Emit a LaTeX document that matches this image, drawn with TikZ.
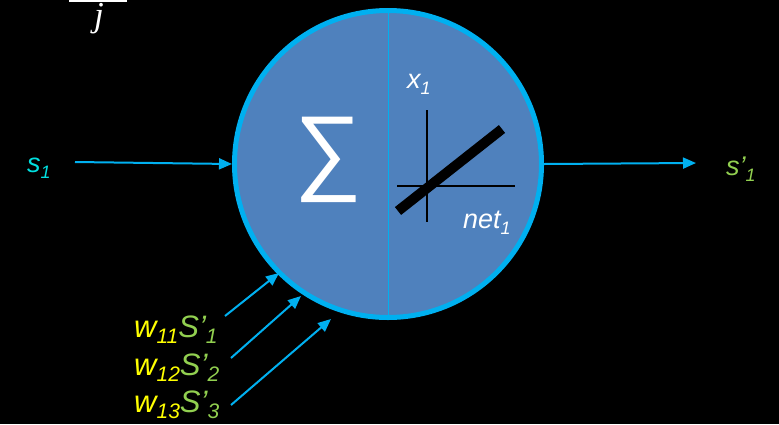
\documentclass[tikz,border=0pt]{standalone}
\usepackage{fontspec}
\setmainfont{Liberation Sans}
\newfontfamily\serifj{Liberation Serif}
\usetikzlibrary{arrows.meta}
\definecolor{neurofill}{HTML}{4F81BD}
\definecolor{neuroline}{HTML}{00B0F0}
\definecolor{incyan}{HTML}{00E0E0}
\definecolor{outgreen}{HTML}{92D050}
\definecolor{wyellow}{HTML}{FFFF00}
\newcommand\mysub[1]{\raisebox{-0.45ex}{\fontsize{18}{18}\selectfont #1}}
\newcommand\wsub[1]{\raisebox{-0.4ex}{\fontsize{21}{21}\selectfont #1}}
\tikzset{
  arr/.style={draw=neuroline, line width=2pt, -{Triangle[length=13pt,width=11pt]}},
  lbl/.style={inner sep=0pt, font=\fontsize{27}{30}\selectfont\itshape},
  wlbl/.style={inner sep=0pt, anchor=base west, font=\fontsize{31}{33}\selectfont\itshape},
}
\begin{document}
\begin{tikzpicture}[x=1pt,y=-1pt]
\fill[black] (0,0) rectangle (779,424);
\useasboundingbox (0,0) rectangle (779,424);
% fraction remnant
\coordinate (fa) at (69,0.8);
\coordinate (fb) at (127,0.8);
\draw[white, line width=1.6pt] (fa) -- (fb);
\node[inner sep=0pt, text=white, font=\fontsize{35}{35}\selectfont\serifj\itshape] (j) at (99,19) {j};
% neuron
\node[circle, draw=neuroline, fill=neurofill, line width=5pt, minimum size=307pt, inner sep=0pt] (neuron) at (388,164) {};
\draw[neuroline, line width=0.8pt] (neuron.north) -- (neuron.south);
\node[inner sep=0pt, text=white, font=\fontsize{95}{95}\selectfont] (sigma) at (328,160) {∑};
% activation plot
\coordinate (va) at (427,110);
\coordinate (vb) at (427,222);
\coordinate (ha) at (397,186);
\coordinate (hb) at (515,186);
\draw[black, line width=1.3pt] (va) -- (vb);
\draw[black, line width=1.3pt] (ha) -- (hb);
\coordinate (ta) at (398,211);
\coordinate (tb) at (502,129);
\draw[black, line width=10pt] (ta) -- (tb);
\node[lbl, text=white, anchor=base west] (x1) at (407,88) {x\mysub{1}};
\node[lbl, text=white, anchor=base west] (net1) at (463,228) {net\mysub{1}};
% input
\node[lbl, text=incyan, anchor=base west] (s1) at (27,172) {s\mysub{1}};
\coordinate (inA) at (75,162);
\draw[arr] (inA) -- (neuron.west);
% output
\coordinate (outB) at (696,163);
\draw[arr] (neuron.east) -- (outB);
\node[lbl, text=outgreen, anchor=base west] (so1) at (726,175) {s’\mysub{1}};
% weighted inputs
\node[wlbl] (w1) at (134,337) {\textcolor{wyellow}{w\wsub{11}}\textcolor{outgreen}{S’\wsub{1}}};
\node[wlbl] (w2) at (134,375) {\textcolor{wyellow}{w\wsub{12}}\textcolor{outgreen}{S’\wsub{2}}};
\node[wlbl] (w3) at (134,412) {\textcolor{wyellow}{w\wsub{13}}\textcolor{outgreen}{S’\wsub{3}}};
\coordinate (a1s) at (225,316);
\coordinate (a1e) at (279,273);
\coordinate (a2s) at (231,358);
\coordinate (a2e) at (301,296);
\coordinate (a3s) at (231,405);
\coordinate (a3e) at (331,319);
\draw[arr] (a1s) -- (a1e);
\draw[arr] (a2s) -- (a2e);
\draw[arr] (a3s) -- (a3e);
\end{tikzpicture}
\end{document}
